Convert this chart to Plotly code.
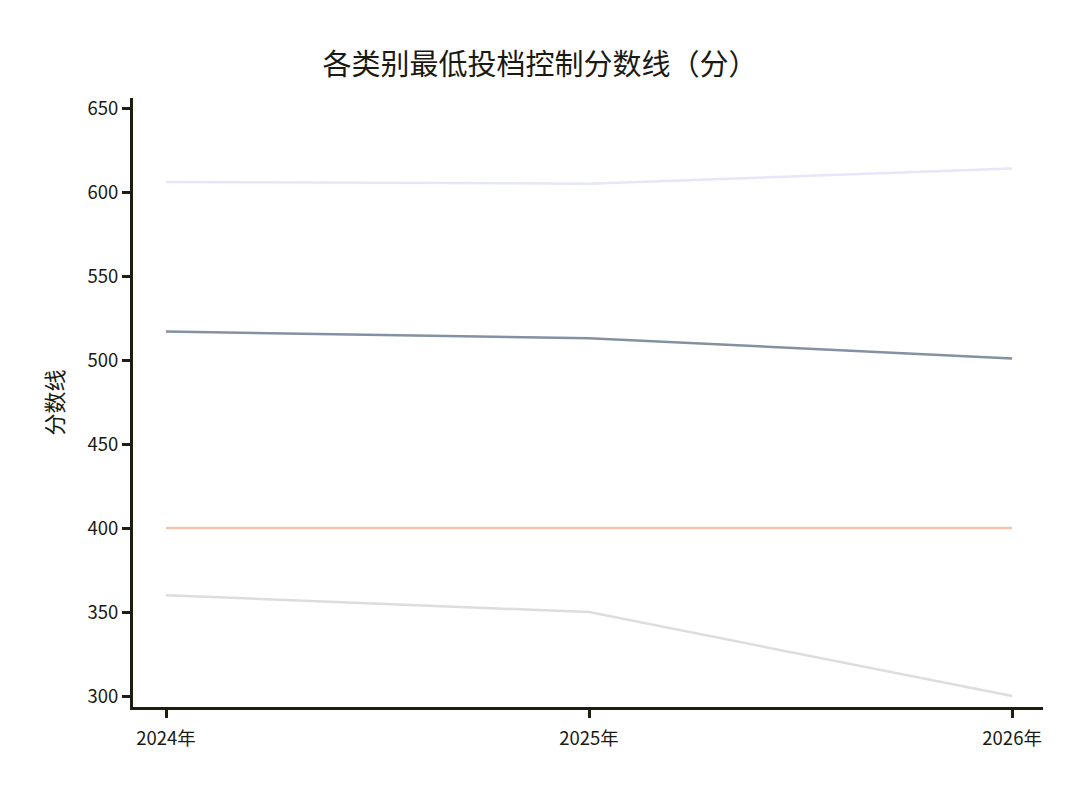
import plotly.graph_objects as go

years = ["2024年", "2025年", "2026年"]
series_a = [606, 605, 614]
series_b = [517, 513, 501]
series_c = [400, 400, 400]
series_d = [360, 350, 300]
names = ["类别一", "类别二", "类别三", "类别四"]
colors = ["#e6e6fa", "#8391a2", "#f6c4ae", "#dddddd"]

fig = go.Figure()
for name, vals, col in zip(names, [series_a, series_b, series_c, series_d], colors):
    fig.add_trace(go.Scatter(x=years, y=vals, mode="lines", name=name,
                             line=dict(color=col, width=2.5)))

font_family = "Noto Sans CJK SC, Noto Sans, sans-serif"
axis_col = "#1e1e10"
text_col = "#1a1a12"
fig.update_layout(
    width=1080, height=792,
    paper_bgcolor="white", plot_bgcolor="white",
    showlegend=False,
    margin=dict(l=133, r=37, t=98, b=85),
    title=dict(text="各类别最低投档控制分数线（分）", x=0.5, xanchor="center",
               y=0.918, yanchor="middle",
               font=dict(family=font_family, size=29, color=text_col)),
    font=dict(family=font_family, color=text_col),
)
fig.update_xaxes(
    range=[-0.078, 2.073], showgrid=False, zeroline=False,
    showline=True, linecolor=axis_col, linewidth=3,
    ticks="outside", ticklen=8, tickwidth=3, tickcolor=axis_col,
    ticklabelstandoff=5,
    tickfont=dict(size=18.5, family=font_family, color=text_col),
)
fig.update_yaxes(
    range=[293.5, 656], showgrid=False, zeroline=False,
    showline=True, linecolor=axis_col, linewidth=3,
    ticks="outside", ticklen=8, tickwidth=3, tickcolor=axis_col,
    tickvals=[300, 350, 400, 450, 500, 550, 600, 650],
    tickfont=dict(size=18.5, family=font_family, color=text_col),
    title=dict(text="分数线", font=dict(size=22, family=font_family, color=text_col), standoff=18),
)

fig.write_html("out.html")
